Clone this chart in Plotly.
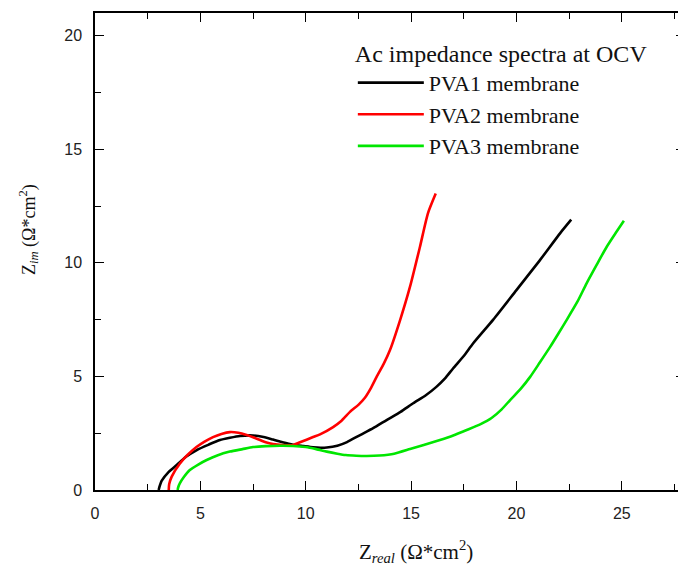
import plotly.graph_objects as go

# PVA1 membrane
pva1_x = [3.02, 3.08, 3.16, 3.5, 3.88, 4.3, 4.83, 5.4, 5.93, 6.4, 6.88, 7.5, 8.0, 8.45, 8.9, 9.4, 9.9,
          10.35, 10.7, 11.0, 11.5, 11.96, 12.58, 13.2, 13.84, 14.5, 15.1, 15.7, 16.2, 16.6, 17.0, 17.5,
          17.95, 18.9, 20.0, 21.1, 22.07, 22.6]
pva1_y = [0.0, 0.2, 0.4, 0.8, 1.1, 1.45, 1.76, 2.0, 2.2, 2.3, 2.38, 2.4, 2.33, 2.22, 2.1, 1.99, 1.93,
          1.88, 1.86, 1.87, 1.95, 2.11, 2.42, 2.72, 3.08, 3.44, 3.82, 4.17, 4.54, 4.9, 5.36, 5.9,
          6.46, 7.5, 8.8, 10.1, 11.3, 11.9]

# PVA2 membrane
pva2_x = [3.5, 3.52, 3.64, 4.03, 4.4, 4.83, 5.2, 5.6, 6.0, 6.4, 6.8, 7.2, 7.5, 7.83, 8.1, 8.45, 8.9,
          9.4, 9.73, 10.35, 10.68, 11.3, 11.7, 12.1, 12.5, 12.8, 13.1, 13.37, 13.7, 14.0, 14.48,
          14.95, 15.42, 15.8, 16.17]
pva2_y = [0.0, 0.25, 0.59, 1.17, 1.55, 1.9, 2.13, 2.33, 2.47, 2.55, 2.52, 2.42, 2.32, 2.2, 2.1, 2.02,
          1.98, 1.98, 2.1, 2.33, 2.45, 2.77, 3.05, 3.44, 3.75, 4.05, 4.5, 4.99, 5.55, 6.16, 7.48,
          8.95, 10.7, 12.18, 13.05]

# PVA3 membrane
pva3_x = [3.92, 3.95, 4.03, 4.2, 4.5, 4.9, 5.3, 5.8, 6.4, 7.0, 7.5, 8.1, 8.78, 9.4, 10.0, 10.5, 11.0,
          11.5, 11.9, 12.4, 12.9, 13.5, 14.2, 14.95, 15.6, 16.37, 17.0, 17.64, 18.3, 18.82, 19.3,
          19.7, 20.2, 20.65, 21.1, 21.6, 22.0, 22.38, 22.9, 23.33, 23.8, 24.28, 24.7, 25.1]
pva3_y = [0.0, 0.12, 0.3, 0.55, 0.88, 1.12, 1.32, 1.52, 1.69, 1.8, 1.89, 1.93, 1.95, 1.94, 1.89, 1.8,
          1.69, 1.6, 1.54, 1.51, 1.5, 1.52, 1.6, 1.8, 1.98, 2.2, 2.4, 2.64, 2.9, 3.17, 3.55,
          3.96, 4.45, 4.98, 5.6, 6.3, 6.9, 7.48, 8.3, 9.1, 9.9, 10.7, 11.3, 11.85]

series_names = ["PVA1 membrane", "PVA2 membrane", "PVA3 membrane"]
series_colors = ["#000000", "#ff0000", "#00e600"]
xs = [pva1_x, pva2_x, pva3_x]
ys = [pva1_y, pva2_y, pva3_y]

x_tickvals = [0, 5, 10, 15, 20, 25]
y_tickvals = [0, 5, 10, 15, 20]
x_range = [0, 28]
y_range = [0, 21]

legend_title = "Ac impedance spectra at OCV"
x_title = "Z<sub><i>real</i></sub> (Ω*cm<sup>2</sup>)"
y_title = "Z<sub><i>im</i></sub> (Ω*cm<sup>2</sup>)"

serif = "Liberation Serif"
sans = "Liberation Sans"

fig = go.Figure()
for n, c, x, y in zip(series_names, series_colors, xs, ys):
    fig.add_trace(go.Scatter(x=x, y=y, mode="lines", name=n, legendgroup=n,
                             line=dict(color=c, width=2.6, shape="spline", smoothing=0.6)))

# empty helper trace so the mirrored top/right axes (carrying ticks) are drawn
fig.add_trace(go.Scatter(x=[], y=[], xaxis="x2", yaxis="y2", showlegend=False, hoverinfo="skip"))

tick_common = dict(
    ticks="inside", ticklen=9, tickwidth=1.3, tickcolor="black",
    showgrid=False, zeroline=False, automargin=False,
    minor=dict(ticks="inside", ticklen=6, tickwidth=1.3, tickcolor="black", dtick=2.5, showgrid=False),
)

fig.update_layout(
    width=686, height=568,
    # page body adds an 8px offset; margins compensate so the plot box sits at x 95-685, y 13-490
    margin=dict(l=87, r=9, t=5, b=86),
    paper_bgcolor="white", plot_bgcolor="white",
    font=dict(family=serif, size=19, color="#111"),
    showlegend=True,
    legend=dict(
        x=0.437, y=0.963, xanchor="left", yanchor="top",
        bgcolor="rgba(0,0,0,0)", borderwidth=0,
        font=dict(family=serif, size=22, color="#111"),
        title=dict(text=legend_title, font=dict(family=serif, size=24, color="#111")),
        traceorder="grouped", tracegroupgap=0, itemwidth=66,
    ),
    xaxis=dict(range=x_range, tickvals=x_tickvals,
               showline=True, linecolor="black", linewidth=1.5, mirror=True,
               tickfont=dict(family=sans, size=16, color="#222"), ticklabelstandoff=8,
               **tick_common),
    yaxis=dict(range=y_range, tickvals=y_tickvals,
               showline=True, linecolor="black", linewidth=1.5, mirror=True,
               tickfont=dict(family=sans, size=16, color="#222"), ticklabelstandoff=8,
               **tick_common),
    xaxis2=dict(range=x_range, tickvals=x_tickvals, overlaying="x", side="top",
                showticklabels=False, showline=False, **tick_common),
    yaxis2=dict(range=y_range, tickvals=y_tickvals, overlaying="y", side="right",
                showticklabels=False, showline=False, **tick_common),
    annotations=[
        dict(text=x_title, xref="paper", yref="paper", x=0.544, y=0, xanchor="center",
             yanchor="middle", yshift=-61, showarrow=False,
             font=dict(family=serif, size=21, color="#111")),
        dict(text=y_title, xref="paper", yref="paper", x=0, y=0.545, xanchor="center",
             yanchor="middle", xshift=-67, textangle=-90, showarrow=False,
             font=dict(family=serif, size=18, color="#111")),
    ],
)

fig.write_html("out.html")
